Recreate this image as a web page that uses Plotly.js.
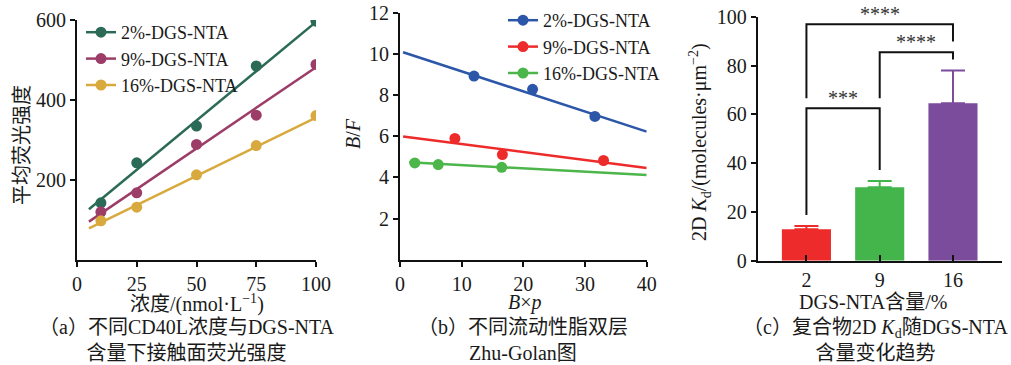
<!DOCTYPE html>
<html>
<head>
<meta charset="utf-8">
<script src="https://cdn.plot.ly/plotly-3.0.1.min.js"></script>
<style>html,body{margin:0;padding:0;background:#fff;}#chart{width:1011px;height:365px;}</style>
</head>
<body>
<div id="chart"></div>
<script>
// ---------- Data ----------
// (a) contact-area fluorescence vs CD40L concentration
var seriesNames = ['2%-DGS-NTA', '9%-DGS-NTA', '16%-DGS-NTA'];
var concX = [10, 25, 50, 75, 100];
var fluo2 = [143, 243, 335, 485, 597];
var fluo9 = [120, 168, 289, 362, 489];
var fluo16 = [98, 132, 213, 286, 361];
var fitConcX = [5, 100];
var fitFluo2 = [127, 595];
var fitFluo9 = [96, 482];
var fitFluo16 = [79, 356];

// (b) Zhu-Golan plot
var bp2 = [12.0, 21.5, 31.6];
var bf2 = [8.92, 8.28, 6.96];
var bp9 = [8.9, 16.6, 33.0];
var bf9 = [5.89, 5.11, 4.82];
var bp16 = [2.4, 6.2, 16.5];
var bf16 = [4.70, 4.62, 4.49];
var fitBp2 = [0.5, 40];
var fitBf2 = [10.08, 6.22];
var fitBp9 = [0.5, 40];
var fitBf9 = [5.99, 4.46];
var fitBp16 = [1.5, 40];
var fitBf16 = [4.73, 4.12];

// (c) 2D Kd vs DGS-NTA content
var kdCategories = ['2', '9', '16'];
var kdMean = [12.9, 30.1, 64.5];
var kdErr = [1.3, 2.6, 13.4];
// significance brackets
var bracketLeft = [0, 1, 0];
var bracketRight = [2, 2, 1];
var bracketTop = [96.9, 85.4, 62.5];
var bracketLeftEnd = [66.6, 66.6, 18.7];
var bracketRightEnd = [89.8, 82.5, 37.2];
var bracketLabels = ['****', '****', '***'];

// ---------- Styling ----------
var W = 1011, H = 365;
function px(x) { return x / W; }
function py(y) { return 1 - y / H; }
var FONT = 'Liberation Serif, "Noto Sans CJK SC", serif';
var TXT = '#1a1a1a';
var colA = ['#2b6a56', '#9c3d68', '#d8a93c'];
var colB = ['#2c56a8', '#ee2b2b', '#4cb64a'];
var colC = ['#ee2b2b', '#43b54b', '#7b4c9c'];

var traces = [];
function addSeries(xa, ya, xs, ys, fx, fy, color, name, legendId) {
  traces.push({x: fx, y: fy, xaxis: xa, yaxis: ya, mode: 'lines', type: 'scatter',
    line: {color: color, width: 2.5}, showlegend: false, hoverinfo: 'skip'});
  traces.push({x: xs, y: ys, xaxis: xa, yaxis: ya, mode: 'markers', type: 'scatter',
    marker: {color: color, size: 11}, showlegend: false, name: name});
  traces.push({x: [null], y: [null], xaxis: xa, yaxis: ya, mode: 'lines+markers', type: 'scatter',
    line: {color: color, width: 2.5}, marker: {color: color, size: 11},
    name: name, legend: legendId, showlegend: true});
}
addSeries('x', 'y', concX, fluo2, fitConcX, fitFluo2, colA[0], seriesNames[0], 'legend');
addSeries('x', 'y', concX, fluo9, fitConcX, fitFluo9, colA[1], seriesNames[1], 'legend');
addSeries('x', 'y', concX, fluo16, fitConcX, fitFluo16, colA[2], seriesNames[2], 'legend');
addSeries('x2', 'y2', bp2, bf2, fitBp2, fitBf2, colB[0], seriesNames[0], 'legend2');
addSeries('x2', 'y2', bp9, bf9, fitBp9, fitBf9, colB[1], seriesNames[1], 'legend2');
addSeries('x2', 'y2', bp16, bf16, fitBp16, fitBf16, colB[2], seriesNames[2], 'legend2');

for (var i = 0; i < kdCategories.length; i++) {
  traces.push({type: 'bar', x: [kdCategories[i]], y: [kdMean[i]], xaxis: 'x3', yaxis: 'y3',
    width: 0.67, marker: {color: colC[i], line: {width: 0}}, showlegend: false,
    error_y: {type: 'data', symmetric: false, array: [kdErr[i]], arrayminus: [0],
      color: colC[i], thickness: 2, width: 12}});
}
var annotations = [];
for (var j = 0; j < bracketLabels.length; j++) {
  var cl = kdCategories[bracketLeft[j]], cr = kdCategories[bracketRight[j]];
  traces.push({type: 'scatter', mode: 'lines', xaxis: 'x3', yaxis: 'y3', showlegend: false,
    hoverinfo: 'skip', cliponaxis: false,
    x: [cl, cl, cr, cr], y: [bracketLeftEnd[j], bracketTop[j], bracketTop[j], bracketRightEnd[j]],
    line: {color: '#111', width: 2}});
  annotations.push({xref: 'x3', yref: 'y3', x: (bracketLeft[j] + bracketRight[j]) / 2,
    y: bracketTop[j], yanchor: 'bottom', yshift: -3, showarrow: false, text: bracketLabels[j],
    font: {family: FONT, size: 20, color: '#333'}});
}

function axisBase(extra) {
  var a = {showgrid: false, zeroline: false, showline: true, linecolor: '#111', linewidth: 2,
    ticks: 'outside', ticklen: 5, tickwidth: 2, tickcolor: '#111',
    tickfont: {family: FONT, size: 20, color: TXT}, fixedrange: true};
  for (var k in extra) a[k] = extra[k];
  return a;
}

function label(x, y, text, size, angle, align) {
  annotations.push({xref: 'paper', yref: 'paper', x: px(x), y: py(y), xanchor: 'center', yanchor: 'middle',
    showarrow: false, text: text, textangle: angle || 0, align: align || 'center',
    font: {family: FONT, size: size, color: TXT}});
}
// axis titles
label(197, 303, '浓度/(nmol·L<sup>−1</sup>)', 20);
label(22, 145, '平均荧光强度', 20, -90);
label(525, 302, '<i>B</i>×<i>p</i>', 20);
label(353, 134, '<i>B</i>/<i>F</i>', 20, -90);
label(873, 302, 'DGS-NTA含量/%', 20);
label(700, 142, '2D <i>K</i><sub>d</sub>/(molecules·μm<sup>−2</sup>)', 20, -90);
// captions
label(187, 340, '（a）不同CD40L浓度与DGS-NTA<br>含量下接触面荧光强度', 20);
label(523, 340, '（b）不同流动性脂双层<br>Zhu-Golan图', 20);
label(875, 340, '（c）复合物2D <i>K</i><sub>d</sub>随DGS-NTA<br>含量变化趋势', 20);

var layout = {
  width: W, height: H, margin: {l: 0, r: 0, t: 0, b: 0}, paper_bgcolor: '#fff', plot_bgcolor: 'rgba(0,0,0,0)',
  showlegend: true, barmode: 'overlay',
  font: {family: FONT, color: TXT},
  xaxis: axisBase({domain: [px(77), px(316)], range: [0, 100], tickvals: [0, 25, 50, 75, 100], anchor: 'y'}),
  yaxis: axisBase({domain: [py(260), py(20)], range: [0, 600], tickvals: [200, 400, 600], anchor: 'x'}),
  xaxis2: axisBase({domain: [px(400), px(646.7)], range: [0, 40], tickvals: [0, 10, 20, 30, 40], anchor: 'y2'}),
  yaxis2: axisBase({domain: [py(259.7), py(12.7)], range: [0, 12], tickvals: [2, 4, 6, 8, 10, 12], anchor: 'x2'}),
  xaxis3: axisBase({domain: [px(757.7), px(1001.7)], type: 'category', range: [-0.665, 2.665],
    ticks: 'inside', ticklen: 6, anchor: 'y3'}),
  yaxis3: axisBase({domain: [py(260.7), py(16.7)], range: [0, 100], tickvals: [0, 20, 40, 60, 80, 100], anchor: 'x3'}),
  legend: {x: px(81), y: py(14), xanchor: 'left', yanchor: 'top', bgcolor: 'rgba(0,0,0,0)',
    font: {family: FONT, size: 18, color: TXT}, itemwidth: 30, tracegroupgap: 0},
  legend2: {x: px(503), y: py(2), xanchor: 'left', yanchor: 'top', bgcolor: 'rgba(0,0,0,0)',
    font: {family: FONT, size: 18, color: TXT}, itemwidth: 30, tracegroupgap: 0},
  annotations: annotations
};
Plotly.newPlot('chart', traces, layout, {displayModeBar: false, staticPlot: true});
</script>
</body>
</html>
